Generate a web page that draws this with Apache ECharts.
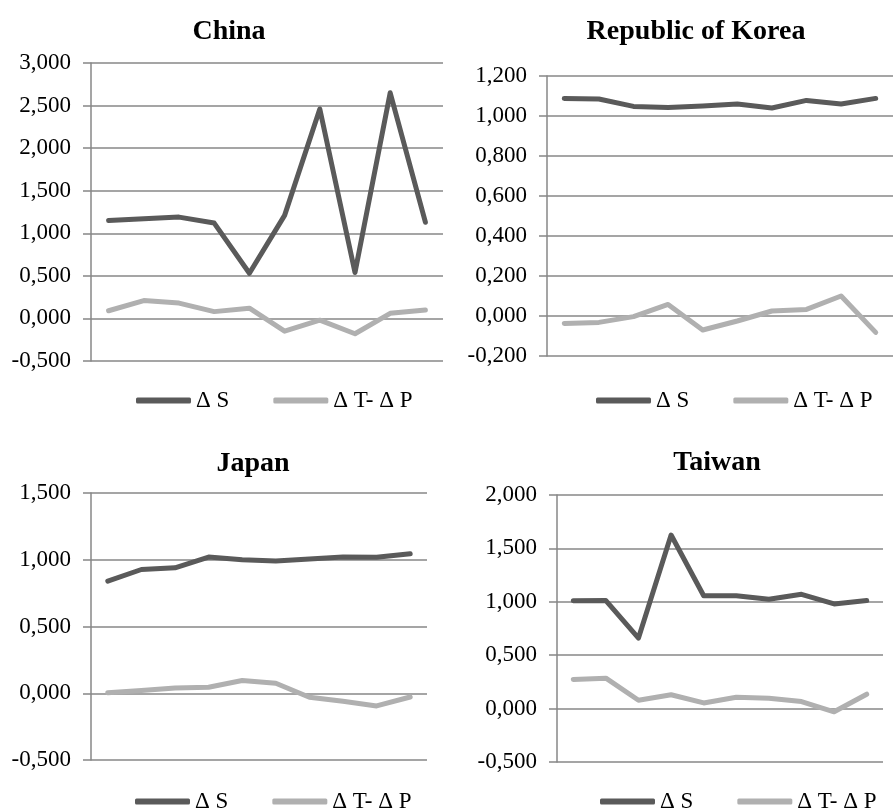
<!DOCTYPE html>
<html>
<head>
<meta charset="utf-8">
<script src="https://cdn.jsdelivr.net/npm/echarts@6/dist/echarts.min.js"></script>
<style>
html, body { margin: 0; padding: 0; background: #fff; }
#main { width: 894px; height: 810px; }
</style>
</head>
<body>
<div id="main"></div>
<script>
// four small line charts
var myChart = echarts.init(document.getElementById('main'));

var periods = ['1', '2', '3', '4', '5', '6', '7', '8', '9', '10'];
var seriesNames = ['Δ S', 'Δ T- Δ P'];

var chinaS = [1.15, 1.17, 1.19, 1.12, 0.53, 1.21, 2.46, 0.54, 2.65, 1.13];
var chinaTP = [0.09, 0.21, 0.18, 0.08, 0.12, -0.15, -0.02, -0.18, 0.06, 0.10];
var koreaS = [1.088, 1.085, 1.048, 1.042, 1.050, 1.060, 1.040, 1.078, 1.060, 1.088];
var koreaTP = [-0.037, -0.032, -0.003, 0.058, -0.070, -0.025, 0.025, 0.033, 0.100, -0.082];
var japanS = [0.84, 0.927, 0.94, 1.02, 1.0, 0.99, 1.005, 1.02, 1.018, 1.045];
var japanTP = [0.003, 0.02, 0.04, 0.045, 0.095, 0.075, -0.03, -0.06, -0.095, -0.028];
var taiwanS = [1.01, 1.012, 0.66, 1.625, 1.057, 1.057, 1.023, 1.07, 0.98, 1.013];
var taiwanTP = [0.273, 0.285, 0.078, 0.13, 0.053, 0.107, 0.097, 0.066, -0.03, 0.135];

var titles = ['China', 'Republic of Korea', 'Japan', 'Taiwan'];
var yMin = [-0.5, -0.2, -0.5, -0.5];
var yMax = [3, 1.2, 1.5, 2];
var yStep = [0.5, 0.2, 0.5, 0.5];

var font = "'Liberation Serif', 'Times New Roman', serif";
var darkColor = '#5a5a5a';
var lightColor = '#b0b0b0';
var gridColor = '#878787';

var panels = [
    {grid: {left: 91, top: 63, width: 352, height: 298}, title: [224, 13], legend: [131, 384], s: chinaS, tp: chinaTP},
    {grid: {left: 547, top: 76, width: 346, height: 280}, title: [691, 13], legend: [591, 384], s: koreaS, tp: koreaTP},
    {grid: {left: 91, top: 493, width: 336, height: 267}, title: [248, 445], legend: [130, 785], s: japanS, tp: japanTP},
    {grid: {left: 557, top: 495, width: 326, height: 267}, title: [712, 444], legend: [595, 785], s: taiwanS, tp: taiwanTP}
];

var option = {
    backgroundColor: '#fff',
    animation: false,
    textStyle: {fontFamily: font},
    title: [], legend: [], grid: [], xAxis: [], yAxis: [], series: []
};

panels.forEach(function (p, i) {
    option.title.push({
        text: titles[i],
        left: p.title[0],
        top: p.title[1],
        textAlign: 'center',
        textStyle: {fontFamily: font, fontSize: 28, fontWeight: 'bold', color: '#000'}
    });
    option.legend.push({
        data: seriesNames,
        left: p.legend[0],
        top: p.legend[1],
        icon: 'roundRect',
        itemWidth: 55,
        itemHeight: 6,
        itemGap: 44,
        selectedMode: false,
        textStyle: {fontFamily: font, fontSize: 23, color: '#000'}
    });
    option.grid.push(p.grid);
    option.xAxis.push({
        type: 'category',
        gridIndex: i,
        data: periods,
        boundaryGap: true,
        axisLine: {show: false},
        axisTick: {show: false},
        axisLabel: {show: false},
        splitLine: {show: false}
    });
    option.yAxis.push({
        type: 'value',
        gridIndex: i,
        min: yMin[i],
        max: yMax[i],
        interval: yStep[i],
        axisLine: {show: true, lineStyle: {color: gridColor, width: 1.5}},
        axisTick: {show: true, length: 8, lineStyle: {color: gridColor, width: 1.5}},
        splitLine: {show: true, lineStyle: {color: gridColor, width: 1.5}},
        axisLabel: {
            margin: 20,
            fontFamily: font,
            fontSize: 23,
            color: '#000',
            formatter: function (v) { return v.toFixed(3).replace('.', ','); }
        }
    });
    option.series.push({
        name: seriesNames[0], type: 'line', xAxisIndex: i, yAxisIndex: i,
        data: p.s, symbol: 'none', color: darkColor,
        lineStyle: {width: 5, color: darkColor, cap: 'round', join: 'round'}
    });
    option.series.push({
        name: seriesNames[1], type: 'line', xAxisIndex: i, yAxisIndex: i,
        data: p.tp, symbol: 'none', color: lightColor,
        lineStyle: {width: 5, color: lightColor, cap: 'round', join: 'round'}
    });
});

myChart.setOption(option);
window.onresize = myChart.resize;
</script>
</body>
</html>
